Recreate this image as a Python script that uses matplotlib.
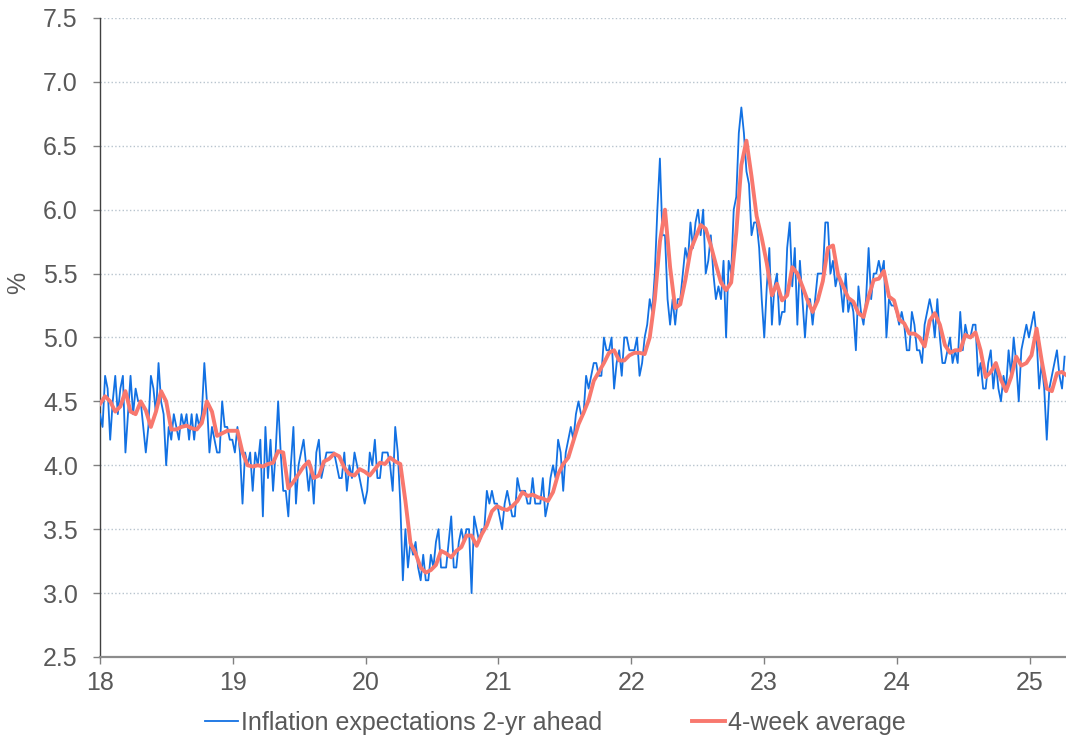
import numpy as np
import matplotlib.pyplot as plt
from matplotlib.ticker import FixedLocator, FuncFormatter

plt.rcParams['font.family'] = ['Liberation Sans', 'DejaVu Sans']

# weekly readings, 2-yr ahead inflation expectations (%), start of 2018 onwards
wk_2018 = [4.4, 4.3, 4.7, 4.6, 4.2, 4.5, 4.7, 4.4, 4.6, 4.7, 4.1, 4.4, 4.7, 4.4, 4.6, 4.5, 4.5, 4.3,
           4.1, 4.3, 4.7, 4.6, 4.4, 4.8, 4.5, 4.4, 4.0, 4.3, 4.2, 4.4, 4.3, 4.2, 4.4, 4.3, 4.4, 4.2,
           4.4, 4.2, 4.4, 4.3, 4.4, 4.8, 4.5, 4.1, 4.3, 4.2, 4.1, 4.1, 4.5, 4.3, 4.3, 4.2]
wk_2019 = [4.2, 4.1, 4.3, 4.1, 3.7, 4.1, 4.0, 4.1, 3.8, 4.1, 4.0, 4.2, 3.6, 4.3, 3.9, 4.2, 3.8, 4.1,
           4.5, 4.1, 3.8, 3.8, 3.6, 4.0, 4.3, 3.7, 4.0, 4.1, 4.2, 4.0, 3.8, 4.0, 3.7, 4.1, 4.2, 3.9,
           4.0, 4.1, 4.1, 4.1, 4.1, 4.0, 3.9, 3.9, 4.1, 3.8, 4.0, 3.9, 4.1, 4.0, 3.9, 3.8, 3.7, 3.8]
wk_2020 = [4.1, 4.0, 4.2, 3.9, 3.9, 4.1, 4.1, 4.1, 4.0, 3.8, 4.3, 4.1, 3.7, 3.1, 3.5, 3.2, 3.4, 3.3,
           3.4, 3.2, 3.1, 3.3, 3.1, 3.1, 3.3, 3.2, 3.4, 3.5, 3.2, 3.2, 3.2, 3.4, 3.6, 3.2, 3.2, 3.4,
           3.5, 3.4, 3.5, 3.5, 3.0, 3.6, 3.5, 3.4, 3.5, 3.5, 3.8, 3.7, 3.8, 3.7, 3.7, 3.6, 3.5]
wk_2021 = [3.7, 3.8, 3.7, 3.6, 3.6, 3.9, 3.8, 3.8, 3.8, 3.7, 3.7, 3.9, 3.7, 3.7, 3.7, 3.9, 3.6, 3.7,
           3.9, 4.0, 3.9, 4.2, 4.1, 3.8, 4.1, 4.2, 4.3, 4.2, 4.4, 4.5, 4.4, 4.4, 4.7, 4.6, 4.7, 4.8,
           4.8, 4.7, 4.7, 5.0, 4.9, 4.9, 5.0, 4.6, 4.8, 4.9, 4.7, 5.0, 5.0, 4.9, 4.9, 4.9, 5.0]
wk_2022 = [4.7, 4.8, 5.0, 5.1, 5.3, 5.2, 5.5, 6.0, 6.4, 5.8, 5.8, 5.3, 5.1, 5.3, 5.1, 5.3, 5.3, 5.5,
           5.7, 5.6, 5.9, 5.7, 5.9, 6.0, 5.8, 6.0, 5.5, 5.6, 5.8, 5.5, 5.3, 5.4, 5.3, 5.6, 5.0, 5.6,
           5.5, 6.0, 6.1, 6.6, 6.8, 6.6, 6.3, 6.2, 5.8, 5.9, 5.9, 5.7, 5.3, 5.0, 5.4]
wk_2023 = [5.7, 5.1, 5.4, 5.5, 5.1, 5.2, 5.2, 5.7, 5.9, 5.4, 5.7, 5.1, 5.6, 5.3, 5.0, 5.3, 5.3, 5.1,
           5.3, 5.5, 5.5, 5.5, 5.9, 5.9, 5.5, 5.6, 5.4, 5.5, 5.4, 5.2, 5.5, 5.2, 5.3, 5.2, 4.9, 5.4,
           5.2, 5.1, 5.3, 5.7, 5.3, 5.5, 5.5, 5.6, 5.5, 5.6, 5.0, 5.3, 5.25, 5.25, 5.2, 5.1, 5.2]
wk_2024 = [5.1, 4.9, 4.9, 5.2, 5.1, 4.9, 4.9, 4.8, 5.1, 5.2, 5.3, 5.2, 5.0, 5.3, 5.0, 4.8, 4.8, 4.9,
           5.0, 4.8, 4.9, 4.8, 5.2, 4.9, 5.1, 5.0, 5.0, 5.1, 5.1, 4.7, 4.8, 4.6, 4.6, 4.8, 4.9, 4.6,
           4.8, 4.6, 4.5, 4.7, 4.6, 4.9, 4.7, 5.0, 4.8, 4.5, 4.9, 5.0, 5.1, 5.0, 5.1, 5.2, 5.0, 4.6,
           4.8, 4.6, 4.2, 4.6, 4.7, 4.8, 4.9, 4.7, 4.6, 4.85]

# 4-week average, read every second week
avg_2018 = [4.48, 4.54, 4.50, 4.42, 4.46, 4.58, 4.42, 4.40, 4.50, 4.43, 4.30, 4.42, 4.58, 4.50,
            4.28, 4.28, 4.30, 4.31, 4.29, 4.28, 4.33, 4.50, 4.42, 4.23, 4.25, 4.27]
avg_2019 = [4.27, 4.27, 4.10, 4.00, 3.99, 4.00, 3.99, 4.01, 4.02, 4.11, 4.10, 3.82, 3.87, 3.93,
            3.99, 4.03, 3.90, 3.92, 4.03, 4.05, 4.09, 4.07, 3.98, 3.93, 3.92, 3.97]
avg_2020 = [3.95, 3.92, 3.97, 4.02, 4.01, 4.06, 4.03, 4.01, 3.72, 3.39, 3.31, 3.20, 3.16, 3.18,
            3.22, 3.33, 3.31, 3.28, 3.33, 3.36, 3.45, 3.45, 3.37, 3.46, 3.53, 3.64]
avg_2021 = [3.68, 3.66, 3.65, 3.68, 3.72, 3.79, 3.76, 3.77, 3.75, 3.74, 3.72, 3.79, 3.93, 4.01,
            4.06, 4.19, 4.32, 4.41, 4.51, 4.66, 4.73, 4.80, 4.88, 4.90, 4.82, 4.82]
avg_2022 = [4.86, 4.88, 4.88, 4.87, 5.00, 5.30, 5.75, 6.00, 5.55, 5.23, 5.26, 5.45, 5.68, 5.78,
            5.88, 5.85, 5.72, 5.57, 5.43, 5.37, 5.43, 5.82, 6.35, 6.54, 6.26, 5.95]
avg_2023 = [5.78, 5.58, 5.33, 5.42, 5.29, 5.33, 5.55, 5.50, 5.40, 5.29, 5.20, 5.29, 5.44, 5.70,
            5.72, 5.49, 5.40, 5.31, 5.28, 5.19, 5.16, 5.32, 5.45, 5.46, 5.52, 5.32]
avg_2024 = [5.29, 5.14, 5.11, 5.03, 5.03, 5.00, 4.93, 5.13, 5.19, 5.10, 4.94, 4.88, 4.90, 4.90,
            5.02, 5.00, 5.04, 4.90, 4.69, 4.73, 4.80, 4.67, 4.58, 4.69, 4.85, 4.78]
avg_2025 = [4.80, 4.86, 5.07, 4.82, 4.60, 4.58, 4.72, 4.73, 4.70]

weekly = np.array(wk_2018 + wk_2019 + wk_2020 + wk_2021 + wk_2022 + wk_2023 + wk_2024)
avg4 = np.array(avg_2018 + avg_2019 + avg_2020 + avg_2021 + avg_2022 + avg_2023 + avg_2024 + avg_2025)

wpy = 52.18
t_week = 2018 + np.arange(len(weekly)) / wpy
t_avg = 2018 + 2 * np.arange(len(avg4)) / wpy

blue = '#1271E3'
red = '#F8786E'
txt = '#595959'
fs = 18

fig = plt.figure(figsize=(10.66, 7.40), dpi=100)
ax = fig.add_axes([0.0938, 0.1122, 0.9062, 0.8635])

ax.plot(t_week, weekly, color=blue, lw=1.3, label='Inflation expectations 2-yr ahead', zorder=3)
ax.plot(t_avg, avg4, color=red, lw=2.8, label='4-week average', zorder=4)

ax.set_xlim(2018, 2025.274)
ax.set_ylim(2.5, 7.5)

ax.yaxis.set_major_locator(FixedLocator(np.arange(2.5, 7.51, 0.5)))
ax.yaxis.set_major_formatter(FuncFormatter(lambda v, p: f'{v:.1f}'))
ax.xaxis.set_major_locator(FixedLocator(np.arange(2018, 2026)))
ax.xaxis.set_major_formatter(FuncFormatter(lambda v, p: f'{int(round(v)) % 100:02d}'))

ax.grid(axis='y', linestyle=':', color='#B8C4CE', lw=1.0)
ax.set_axisbelow(True)

for s in ['top', 'right']:
    ax.spines[s].set_visible(False)
ax.spines['left'].set_color('#404040')
ax.spines['left'].set_linewidth(1.0)
ax.spines['bottom'].set_color('#8C8C8C')
ax.spines['bottom'].set_linewidth(1.6)

ax.tick_params(axis='y', length=5, width=1.0, color='#808080', labelsize=fs,
               labelcolor=txt, pad=11)
ax.tick_params(axis='x', length=5, width=1.0, color='#808080', labelsize=fs,
               labelcolor=txt, pad=5)

ax.set_ylabel('%', fontsize=fs, color=txt)
ax.yaxis.set_label_coords(-0.072, 0.585)

fig.legend(loc='center', bbox_to_anchor=(0.521, 0.023), ncol=2, frameon=False,
           fontsize=fs, labelcolor=txt, handlelength=1.3, handletextpad=0.12,
           columnspacing=3.6)

fig.savefig('out.png', dpi=100)
